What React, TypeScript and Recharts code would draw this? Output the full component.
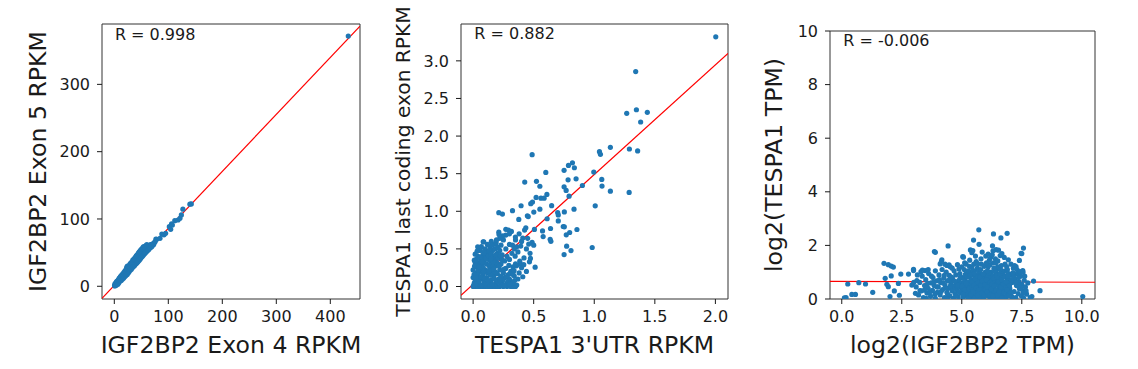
import React from 'react';
import { ScatterChart, Scatter, XAxis, YAxis, ReferenceLine, ReferenceArea } from 'recharts';

type P = [number, number];

// Panel 1: IGF2BP2 Exon 4 vs Exon 5 RPKM
const exonPoints: P[] = [
  [0.5, 1], [1, 0.5], [1.5, 2.5], [2, 1.8], [2.5, 3], [3, 2.2], [3.5, 4], [4, 3.1], [4.5, 5], [5, 4.2],
  [5.5, 6.5], [6, 4.8], [6.5, 5.5], [7, 7.2], [7.5, 6.1], [8, 8.5], [8.5, 7], [9, 9.8], [9.5, 8.1], [10, 10.5],
  [10.5, 9], [11, 11.8], [11.5, 10], [12, 9.8], [12.5, 12.6], [13, 11.2], [13.5, 14], [14, 12.1], [14.5, 13], [15, 15.5],
  [15.5, 13.6], [16, 14.4], [16.5, 16.8], [17, 15], [17.5, 18.2], [18, 15.8], [18.5, 17.2], [19, 19.5], [19.5, 17.4], [20, 18.1],
  [20.5, 20.6], [21, 18.5], [21.5, 22], [22, 19.4], [22.5, 20.1], [23, 28], [23.5, 21], [24, 22.6], [24.5, 25], [25, 21.8],
  [25.5, 27.5], [26, 23.1], [27, 24.5], [27.5, 29], [28, 24.9], [28.5, 26.8], [29, 30.5], [29.5, 26], [30, 28.3], [30.5, 31.8],
  [31, 27.6], [31.5, 29.5], [32, 33.5], [32.5, 28.5], [33, 31], [33.5, 34.8], [34, 30.2], [34.5, 32.4], [35, 36.2], [35.5, 31.4],
  [36, 33.5], [36.5, 37.5], [37, 32.6], [37.5, 35], [38, 39.2], [38.5, 33.8], [39, 36], [39.5, 41], [40, 35.2], [40.5, 37.8],
  [41, 42.5], [41.5, 36.4], [42, 38.5], [42.5, 44], [43, 37.8], [43.5, 40.2], [44, 46], [44.5, 39], [45, 41.5], [45.5, 47.2],
  [46, 40.2], [46.5, 43], [47, 48.5], [47.5, 41.5], [48, 44.6], [48.5, 50], [49, 43], [49.5, 45.8], [50, 51.5], [50.5, 44.5],
  [51, 47], [52, 53], [52.5, 46], [53, 48.5], [54, 55], [54.5, 47.5], [55, 57.5], [55.5, 50], [56, 48.8], [57, 56],
  [57.5, 51], [58, 58], [59, 52], [60, 55], [60.5, 59], [61, 53], [62, 57], [63, 55.5], [64, 60], [65, 57.5],
  [66, 58], [67, 62], [68, 59], [70, 61.5], [72, 61.4], [74, 65], [77, 70], [78.5, 69.8], [84.6, 71.3], [88, 77.7],
  [92, 76.5], [95, 78.7], [101.9, 88.6], [104.4, 84.6], [106, 92.6], [107.5, 91], [112, 97.5], [118, 98.5], [121.6, 101], [124.2, 106],
  [127, 114.5], [140, 122], [142.6, 122.3], [433.3, 371.8],
  [1.2, 3.5], [2.8, 5.2], [3.6, 1.5], [4.2, 6.8], [5.8, 8.2], [6.6, 3.2], [7.7, 9.8], [8.3, 5.4], [9.2, 12.1], [10.4, 7.3],
  [11.3, 14.2], [12.7, 8.6], [13.2, 16.3], [14.8, 10.5], [15.6, 18.4], [16.9, 11.9], [17.8, 20.6], [18.7, 13.8], [19.8, 22.9], [21.2, 15.6],
  [22.1, 25.7], [23.8, 17.5], [24.2, 30.1], [25.7, 19.8], [26.4, 29.5], [27.3, 21.7], [28.6, 32.4], [29.4, 23.8], [30.3, 34.6], [31.6, 25.4],
  [32.4, 36.1], [33.8, 27.9], [34.2, 38.8], [35.7, 29.3], [36.3, 40.4], [37.6, 30.9], [38.4, 42.6], [39.7, 33.1], [40.3, 44.7], [41.8, 34.5],
  [42.3, 46.8], [43.7, 36.3], [44.6, 49.2], [45.8, 38.4], [46.2, 51.3], [47.7, 40.1], [48.3, 53.2], [49.6, 42.3], [50.4, 55.4], [51.7, 44.2],
  [52.8, 57.3], [53.6, 46.1], [54.3, 58.9], [55.8, 48.2], [56.4, 58.2], [57.3, 49.5], [58.6, 60.4], [59.5, 51.4], [60.2, 61.8], [61.7, 53.6],
  [62.6, 58.8], [63.4, 54.2], [64.7, 58.4], [65.8, 60.6], [66.3, 56.9], [67.6, 60.1], [68.5, 61.8], [69.2, 58.6], [71.1, 63.2], [73.2, 62.8],
  [75.8, 66.4],
];

// Panel 2: TESPA1 3'UTR vs last coding exon RPKM
const utrPoints: P[] = [
  [2.003, 3.32], [1.342, 2.858], [1.348, 2.35], [1.268, 2.303], [1.438, 2.316], [1.383, 2.187], [1.133, 1.85], [1.29, 1.828],
  [1.358, 1.802], [1.043, 1.792], [1.051, 1.757], [0.487, 1.753], [0.82, 1.645], [0.787, 1.61], [0.836, 1.579], [0.751, 1.545],
  [0.6, 1.517], [0.996, 1.521], [0.85, 1.432], [0.784, 1.418], [1.062, 1.424], [0.426, 1.389], [0.523, 1.398], [0.551, 1.333],
  [0.902, 1.343], [1.064, 1.335], [0.751, 1.325], [0.768, 1.277], [1.133, 1.268], [1.288, 1.251], [0.609, 1.224], [0.52, 1.185],
  [0.56, 1.175], [0.586, 1.175], [0.792, 1.201], [0.49, 1.123], [0.476, 1.101], [0.648, 1.075], [0.396, 1.074], [1.008, 1.073],
  [0.325, 1.008], [0.551, 1.028], [0.501, 0.99], [0.212, 0.981], [0.242, 0.963], [0.753, 0.992], [0.833, 1.028], [0.698, 0.983],
  [0.703, 0.952], [0.448, 0.941], [0.455, 0.93], [0.377, 0.892], [0.611, 0.901], [0.703, 0.872], [0.744, 0.798], [0.753, 0.793],
  [0.639, 0.771], [0.857, 0.758], [0.573, 0.739], [0.506, 0.759], [0.435, 0.781], [0.425, 0.75], [0.797, 0.718], [0.769, 0.687],
  [0.316, 0.732], [0.292, 0.75], [0.212, 0.723], [0.27, 0.684], [0.245, 0.675], [0.578, 0.664], [0.349, 0.657], [0.41, 0.645],
  [0.636, 0.628], [0.642, 0.601], [0.083, 0.595], [0.487, 0.586], [0.772, 0.536], [0.808, 0.478], [0.751, 0.425], [0.983, 0.519],
  [0.459, 0.564], [0.393, 0.537], [0.36, 0.528], [0.325, 0.55], [0.473, 0.373], [0.465, 0.328], [0.512, 0.257], [0.385, 0.337],
  [0.39, 0.3], [0.347, 0.404], [0.358, 0.275], [0.061, 0.306], [0.017, 0.324], [0.04, 0.29],
  [0.0, 0], [0.02, 0], [0.04, 0], [0.06, 0], [0.08, 0], [0.1, 0], [0.12, 0], [0.14, 0], [0.16, 0], [0.18, 0],
  [0.2, 0], [0.22, 0], [0.25, 0], [0.28, 0], [0.31, 0], [0.33, 0], [0.35, 0],
  [0.01, 0.05], [0.03, 0.08], [0.05, 0.03], [0.07, 0.1], [0.09, 0.06], [0.11, 0.12], [0.13, 0.04], [0.15, 0.09], [0.17, 0.14],
  [0.19, 0.05], [0.21, 0.1], [0.0, 0.12], [0.02, 0.18], [0.04, 0.14], [0.06, 0.2], [0.08, 0.16], [0.1, 0.22], [0.12, 0.18],
  [0.14, 0.24], [0.16, 0.2], [0.18, 0.27], [0.2, 0.17], [0.22, 0.22], [0.0, 0.22], [0.03, 0.26], [0.05, 0.31], [0.07, 0.28],
  [0.09, 0.33], [0.11, 0.3], [0.13, 0.36], [0.15, 0.32], [0.17, 0.38], [0.19, 0.34], [0.01, 0.35], [0.04, 0.4], [0.08, 0.42],
  [0.12, 0.45], [0.16, 0.48], [0.2, 0.44], [0.1, 0.5], [0.14, 0.52], [0.18, 0.5], [0.22, 0.48], [0.06, 0.48], [0.24, 0.06],
  [0.26, 0.12], [0.28, 0.04], [0.3, 0.1], [0.32, 0.06], [0.34, 0.14], [0.25, 0.18], [0.27, 0.24], [0.29, 0.16], [0.31, 0.2],
  [0.33, 0.26], [0.36, 0.02], [0.23, 0.3], [0.26, 0.34], [0.28, 0.4], [0.3, 0.36], [0.24, 0.42], [0.21, 0.38], [0.32, 0.44],
  [0.27, 0.5], [0.23, 0.55], [0.19, 0.58], [0.15, 0.6], [0.25, 0.62], [0.3, 0.56], [0.34, 0.5], [0.35, 0.3], [0.38, 0.18],
  [0.4, 0.25], [0.42, 0.38], [0.37, 0.46], [0.4, 0.6], [0.44, 0.5], [0.47, 0.44], [0.5, 0.55], [0.45, 0.64], [0.38, 0.7],
  [0.35, 0.62], [0.3, 0.7], [0.27, 0.76], [0.22, 0.64], [0.07, 0.38], [0.02, 0.3], [0.11, 0.42], [0.13, 0.28], [0.17, 0.02],
  [0.05, 0.12], [0.09, 0.02], [0.23, 0.02], [0.29, 0.02], [0.022, 0.283], [0.063, 0.35], [0.088, 0.594], [0.132, 0.474],
  [0.104, 0.417], [0.181, 0.563], [0.038, 0.528],
  [0.005, 0.02], [0.015, 0.1], [0.028, 0.04], [0.035, 0.16], [0.047, 0.07], [0.052, 0.23], [0.064, 0.13], [0.071, 0.02],
  [0.083, 0.25], [0.094, 0.11], [0.102, 0.04], [0.115, 0.19], [0.123, 0.08], [0.137, 0.29], [0.142, 0.15], [0.158, 0.03],
  [0.163, 0.26], [0.176, 0.1], [0.185, 0.19], [0.197, 0.31], [0.208, 0.06], [0.216, 0.27], [0.228, 0.14], [0.236, 0.36],
  [0.247, 0.09], [0.256, 0.23], [0.274, 0.13], [0.286, 0.07], [0.295, 0.28], [0.307, 0.17],
  [0.326, 0.04], [0.338, 0.21], [0.012, 0.27], [0.026, 0.36], [0.043, 0.22], [0.058, 0.39], [0.077, 0.33], [0.092, 0.45],
  [0.108, 0.37], [0.127, 0.41], [0.146, 0.43], [0.168, 0.33], [0.184, 0.42], [0.204, 0.52], [0.226, 0.41], [0.017, 0.43],
  [0.033, 0.47], [0.068, 0.53], [0.118, 0.56], [0.155, 0.55], [0.193, 0.62], [0.214, 0.69],
  [0.418, 0.29], [0.44, 0.2], [0.41, 0.13], [0.37, 0.1], [0.33, 0.16], [0.008, 0.16], [0.024, 0.12], [0.049, 0.26],
  [0.086, 0.2], [0.131, 0.21], [0.149, 0.37], [0.171, 0.23], [0.224, 0.08], [0.259, 0.02], [0.302, 0.03], [0.342, 0.08],
];

// Panel 3: log2 TPM IGF2BP2 vs TESPA1
const tpmPoints: P[] = [
  [5.71, 2.58], [6.32, 2.43], [6.89, 2.45], [6.63, 2.28], [5.49, 2.2], [4.43, 1.98], [5.72, 2.04], [6.28, 1.98],
  [7.57, 1.9], [7.47, 1.7], [3.86, 1.77], [3.9, 1.74], [5.04, 1.58], [5.36, 1.83], [6.94, 1.46], [7.26, 1.21],
  [1.76, 1.33], [1.94, 1.28], [2.06, 1.23], [2.15, 1.19], [4.17, 1.46], [4.47, 1.27], [4.38, 1.25], [3.36, 1.08],
  [2.99, 1.11], [2.46, 0.93], [2.78, 0.93], [2.06, 0.86], [1.81, 0.77], [0.25, 0.56], [0.71, 0.61], [0.99, 0.56],
  [1.29, 0.25], [1.88, 0.55], [1.94, 0.46], [2.36, 0.58], [2.92, 0.52], [2.19, 0.3], [2.4, 0.14], [2.01, 0.09],
  [3.07, 0.21], [0.18, 0.05], [0.11, 0.04], [0.42, 0.17], [0.57, 0.17], [7.99, 0.67], [8.26, 0.31], [7.92, 0.09],
  [10.04, 0.09], [3.13, 0.69], [3.47, 1.06], [3.26, 0.31], [6.43, 1.84], [6.67, 1.69], [7.5, 1.69], [7.4, 1.44],
  [7.54, 1.06], [5.46, 1.81], [5.42, 1.73], [5.07, 1.56], [4.1, 1.31], [2.99, 1.06],
  [3.1, 0.45], [3.2, 0.15], [3.25, 0.62], [3.3, 0.3], [3.35, 0.85], [3.4, 0.05], [3.45, 0.5], [3.5, 0.72], [3.55, 0.22],
  [3.6, 0.4], [3.62, 0.95], [3.7, 0.1], [3.72, 0.6], [3.78, 0.32], [3.8, 0.8], [3.85, 0.5], [3.9, 0.02], [3.95, 0.68],
  [3.98, 0.25], [3.3, 1.02], [3.6, 1.1], [3.9, 1.05], [3.0, 0.62], [3.15, 0.9],
  [4.02, 0.45], [4.05, 0.9], [4.1, 0.15], [4.12, 0.62], [4.18, 1.1], [4.2, 0.35], [4.25, 0.78], [4.28, 0.05], [4.3, 0.52],
  [4.35, 1.0], [4.38, 0.25], [4.4, 0.68], [4.45, 0.4], [4.48, 0.88], [4.5, 0.12], [4.52, 1.2], [4.55, 0.58], [4.6, 0.3],
  [4.62, 0.75], [4.65, 0.02], [4.68, 1.05], [4.7, 0.48], [4.72, 0.2], [4.75, 0.9], [4.78, 0.62], [4.8, 0.35], [4.82, 1.28],
  [4.85, 0.08], [4.88, 0.7], [4.9, 0.45], [4.92, 0.95], [4.95, 0.22], [4.98, 0.6], [4.3, 1.3], [4.6, 1.15], [4.15, 1.4],
  [4.4, 0.02],
  [5.0, 0.3], [5.02, 0.8], [5.05, 0.05], [5.08, 0.55], [5.1, 1.1], [5.12, 0.2], [5.15, 0.68], [5.18, 0.4], [5.2, 0.95],
  [5.22, 0.1], [5.25, 0.6], [5.28, 0.32], [5.3, 0.82], [5.32, 1.22], [5.35, 0.02], [5.38, 0.5], [5.4, 0.72], [5.42, 0.25],
  [5.45, 0.9], [5.48, 0.45], [5.5, 0.12], [5.52, 1.05], [5.55, 0.62], [5.58, 0.35], [5.6, 0.8], [5.62, 0.05], [5.65, 1.15],
  [5.68, 0.5], [5.7, 0.25], [5.72, 0.7], [5.75, 0.95], [5.78, 0.15], [5.8, 0.58], [5.82, 1.3], [5.85, 0.38], [5.88, 0.85],
  [5.9, 0.02], [5.92, 0.65], [5.95, 0.3], [5.98, 1.0], [5.05, 0.42], [5.15, 0.92], [5.25, 0.15], [5.35, 0.65], [5.45, 0.35],
  [5.55, 0.85], [5.65, 0.28], [5.75, 0.48], [5.85, 0.1], [5.95, 0.75], [5.1, 0.62], [5.3, 0.48], [5.5, 0.7], [5.7, 1.05],
  [5.9, 0.45], [5.2, 0.28], [5.4, 1.0], [5.6, 0.2], [5.8, 0.32], [5.0, 1.2], [5.6, 1.4], [5.8, 1.5], [5.5, 1.3], [5.3, 0.08],
  [5.7, 0.05], [5.4, 0.55], [5.6, 0.6], [5.75, 0.22],
  [6.0, 0.4], [6.02, 0.9], [6.05, 0.12], [6.08, 0.62], [6.1, 1.2], [6.12, 0.3], [6.15, 0.75], [6.18, 0.02], [6.2, 0.5],
  [6.22, 1.0], [6.25, 0.22], [6.28, 0.68], [6.3, 0.4], [6.32, 1.35], [6.35, 0.08], [6.38, 0.85], [6.4, 0.55], [6.42, 0.2],
  [6.45, 1.1], [6.48, 0.62], [6.5, 0.35], [6.52, 0.92], [6.55, 0.05], [6.58, 0.48], [6.6, 0.78], [6.62, 0.25], [6.65, 1.25],
  [6.68, 0.6], [6.7, 0.12], [6.72, 0.4], [6.75, 0.88], [6.78, 0.02], [6.8, 0.55], [6.82, 1.05], [6.85, 0.3], [6.88, 0.7],
  [6.9, 0.15], [6.92, 0.48], [6.95, 0.95], [6.98, 0.28], [6.05, 0.55], [6.15, 1.45], [6.25, 0.85], [6.35, 0.3], [6.45, 0.72],
  [6.55, 0.5], [6.65, 0.35], [6.75, 0.62], [6.85, 0.08], [6.95, 0.6], [6.1, 0.85], [6.3, 0.6], [6.5, 1.2], [6.7, 0.95],
  [6.9, 1.1], [6.0, 1.6], [6.2, 1.55], [6.4, 1.5], [6.6, 1.62], [6.3, 1.8], [6.1, 1.68], [6.5, 1.42], [6.8, 1.3], [6.2, 0.15],
  [6.6, 0.08], [6.4, 0.02],
  [7.0, 0.4], [7.05, 0.9], [7.08, 0.1], [7.1, 0.62], [7.15, 1.15], [7.18, 0.28], [7.2, 0.75], [7.25, 0.05], [7.28, 0.5],
  [7.3, 0.95], [7.35, 0.2], [7.38, 0.65], [7.4, 0.38], [7.45, 0.85], [7.48, 0.12], [7.5, 0.55], [7.55, 0.3], [7.58, 0.02],
  [7.6, 0.7], [7.65, 0.45], [7.7, 0.18], [7.75, 0.6], [7.05, 1.3], [7.2, 1.25], [7.1, 0.02], [7.3, 1.1], [7.42, 1.02],
  [7.55, 1.0], [7.35, 0.5], [7.62, 0.85], [7.85, 0.05], [7.68, 0.3],
  [4.57, 0.82], [4.63, 0.38], [4.71, 0.66], [4.77, 0.13], [4.83, 0.52], [4.89, 0.27], [4.94, 0.81], [5.01, 0.48], [5.06, 0.18],
  [5.11, 0.76], [5.14, 0.35], [5.19, 0.58], [5.23, 0.83], [5.27, 0.05], [5.31, 0.37], [5.34, 0.92], [5.37, 0.18], [5.41, 0.43],
  [5.44, 0.63], [5.47, 0.28], [5.51, 0.51], [5.53, 0.03], [5.57, 0.74], [5.61, 0.42], [5.64, 0.87], [5.66, 0.14], [5.69, 0.62],
  [5.73, 0.36], [5.76, 0.82], [5.79, 0.51], [5.83, 0.21], [5.86, 0.68], [5.89, 0.93], [5.93, 0.16], [5.96, 0.53], [5.99, 0.36],
  [6.03, 0.72], [6.06, 0.27], [6.09, 0.45], [6.13, 0.97], [6.16, 0.15], [6.19, 0.62], [6.23, 0.38], [6.26, 0.55], [6.29, 0.12],
  [6.33, 0.78], [6.36, 0.48], [6.39, 1.02], [6.43, 0.33], [6.46, 0.88], [6.49, 0.15], [6.53, 0.65], [6.56, 0.28], [6.59, 0.95],
  [6.63, 0.45], [6.66, 0.72], [6.69, 0.03], [6.73, 0.55], [6.76, 0.25], [6.79, 0.82], [6.83, 0.42], [6.86, 0.63], [6.89, 0.35],
  [6.93, 0.78], [6.96, 0.12], [6.99, 0.5], [7.03, 0.25], [7.07, 0.72], [7.16, 0.88], [7.26, 0.62],
  [7.36, 0.8], [7.46, 0.42], [7.57, 0.22], [4.52, 0.48],
  [4.46, 0.7], [4.41, 0.18], [4.33, 0.42], [4.27, 0.88], [4.22, 0.6], [4.14, 0.28], [4.07, 0.72], [3.97, 0.45], [3.88, 0.18],
  [3.82, 0.62], [3.74, 0.85], [3.66, 0.25], [3.58, 0.58], [3.52, 0.02], [3.44, 0.33], [5.18, 1.3], [5.42, 1.18], [5.66, 1.32],
  [5.94, 1.22], [6.18, 1.28], [6.42, 1.35], [6.68, 1.05], [6.92, 0.85], [5.27, 1.05], [5.53, 0.95], [5.79, 1.1], [6.07, 1.05],
  [6.34, 1.15], [6.61, 1.1], [6.87, 1.2], [7.13, 0.98], [5.57, 1.6], [5.85, 1.75], [6.03, 1.35], [6.27, 1.65], [6.53, 1.82],
  [6.77, 1.55], [5.33, 1.45], [5.12, 1.35], [4.88, 1.12],
];

const exonTicksX = [0, 100, 200, 300, 400];
const exonTicksY = [0, 100, 200, 300];
const utrTicksX = [0, 0.5, 1.0, 1.5, 2.0];
const utrTicksY = [0, 0.5, 1.0, 1.5, 2.0, 2.5, 3.0];
const tpmTicksX = [0, 2.5, 5.0, 7.5, 10.0];
const tpmTicksY = [0, 2, 4, 6, 8, 10];

const exonFit: P[] = [[-22.8, -17.8], [455, 386.4]];
const utrFit: P[] = [[-0.1, -0.116], [2.104, 3.1]];
const tpmFit: P[] = [[-0.49, 0.655], [10.55, 0.625]];

const exonR = 'R = 0.998';
const utrR = 'R = 0.882';
const tpmR = 'R = -0.006';

const FONT = 'DejaVu Sans';
const TEXT = '#1a1a1a';
const BLUE = '#1f77b4';
const TICK_FS = 16;

const toObj = (pts: P[]) => pts.map(([x, y]) => ({ x, y }));

const dot = (props: any) => <circle cx={props.cx} cy={props.cy} r={2.6} fill={BLUE} />;

const fmt1 = (v: number) => v.toFixed(1);
const fmt0 = (v: number) => String(v);

const makeXTick = (fmt: (v: number) => string) => (props: any) => (
  <text
    x={props.x}
    y={props.y}
    dy="0.71em"
    textAnchor="middle"
    fontSize={TICK_FS}
    fontFamily={FONT}
    fill={TEXT}
  >
    {fmt(props.payload.value)}
  </text>
);

const makeYTick = (fmt: (v: number) => string) => (props: any) => (
  <text
    x={props.x}
    y={props.y}
    dy="0.355em"
    textAnchor="end"
    fontSize={TICK_FS}
    fontFamily={FONT}
    fill={TEXT}
  >
    {fmt(props.payload.value)}
  </text>
);

interface PanelProps {
  left: number;
  width: number;
  top: number;
  right: number;
  yAxisWidth: number;
  points: P[];
  fit: P[];
  xDomain: [number, number];
  yDomain: [number, number];
  xTicks: number[];
  yTicks: number[];
  xFmt: (v: number) => string;
  yFmt: (v: number) => string;
  xLabel: string;
  yLabel: string;
  yLabelSize: number;
  yLabelOffset: number;
  rText: string;
  rDy: number;
}

function Panel(p: PanelProps) {
  return (
    <div style={{ position: 'absolute', left: p.left, top: 0 }}>
      <ScatterChart
        width={p.width}
        height={369}
        margin={{ top: p.top, right: p.right, bottom: 0, left: 0 }}
      >
        <XAxis
          type="number"
          dataKey="x"
          domain={p.xDomain}
          allowDataOverflow
          ticks={p.xTicks}
          height={70}
          axisLine={false}
          tickLine={{ stroke: TEXT, strokeWidth: 1 }}
          tickSize={5}
          tickMargin={7}
          tick={makeXTick(p.xFmt)}
          interval={0}
          label={{
            value: p.xLabel,
            position: 'insideBottom',
            offset: 16,
            style: { fontSize: 23.6, fill: TEXT, fontFamily: FONT },
          }}
        />
        <YAxis
          type="number"
          dataKey="y"
          domain={p.yDomain}
          allowDataOverflow
          ticks={p.yTicks}
          width={p.yAxisWidth}
          axisLine={false}
          tickLine={{ stroke: TEXT, strokeWidth: 1 }}
          tickSize={5}
          tickMargin={7}
          tick={makeYTick(p.yFmt)}
          interval={0}
          label={{
            value: p.yLabel,
            angle: -90,
            position: 'insideLeft',
            offset: p.yLabelOffset,
            style: { fontSize: p.yLabelSize, fill: TEXT, fontFamily: FONT, textAnchor: 'middle' },
          }}
        />
        <Scatter data={toObj(p.points)} shape={dot} isAnimationActive={false} />
        <ReferenceLine
          segment={toObj(p.fit)}
          stroke="#ff0000"
          strokeWidth={1.2}
          ifOverflow="hidden"
        />
        <ReferenceArea
          x1={p.xDomain[0]}
          x2={p.xDomain[1]}
          y1={p.yDomain[0]}
          y2={p.yDomain[1]}
          fill="none"
          fillOpacity={0}
          stroke="#333333"
          strokeWidth={1}
          strokeOpacity={1}
          ifOverflow="visible"
          label={(lp: any) => {
            const vb = lp.viewBox || {};
            return (
              <text
                x={vb.x + vb.width * 0.05}
                y={vb.y + p.rDy}
                fontSize={TICK_FS}
                fill={TEXT}
                fontFamily={FONT}
              >
                {p.rText}
              </text>
            );
          }}
        />
      </ScatterChart>
    </div>
  );
}

export default function App() {
  return (
    <div
      style={{
        position: 'absolute',
        left: 0,
        top: 0,
        width: 1138,
        height: 369,
        background: '#ffffff',
        overflow: 'hidden',
      }}
    >
      <Panel
        left={0}
        width={380}
        top={24}
        right={20}
        yAxisWidth={102}
        points={exonPoints}
        fit={exonFit}
        xDomain={[-22.8, 455]}
        yDomain={[-18.9, 389.7]}
        xTicks={exonTicksX}
        yTicks={exonTicksY}
        xFmt={fmt0}
        yFmt={fmt0}
        xLabel="IGF2BP2 Exon 4 RPKM"
        yLabel="IGF2BP2 Exon 5 RPKM"
        yLabelSize={23.6}
        yLabelOffset={37.5}
        rText={exonR}
        rDy={16}
      />
      <Panel
        left={380}
        width={380}
        top={24}
        right={32}
        yAxisWidth={81}
        points={utrPoints}
        fit={utrFit}
        xDomain={[-0.1, 2.104]}
        yDomain={[-0.166, 3.49]}
        xTicks={utrTicksX}
        yTicks={utrTicksY}
        xFmt={fmt1}
        yFmt={fmt1}
        xLabel="TESPA1 3'UTR RPKM"
        yLabel="TESPA1 last coding exon RPKM"
        yLabelSize={20.2}
        yLabelOffset={22.4}
        rText={utrR}
        rDy={14.5}
      />
      <Panel
        left={760}
        width={378}
        top={31}
        right={43}
        yAxisWidth={70}
        points={tpmPoints}
        fit={tpmFit}
        xDomain={[-0.49, 10.55]}
        yDomain={[0, 10]}
        xTicks={tpmTicksX}
        yTicks={tpmTicksY}
        xFmt={fmt1}
        yFmt={fmt0}
        xLabel="log2(IGF2BP2 TPM)"
        yLabel="log2(TESPA1 TPM)"
        yLabelSize={23.6}
        yLabelOffset={13.5}
        rText={tpmR}
        rDy={15}
      />
    </div>
  );
}
